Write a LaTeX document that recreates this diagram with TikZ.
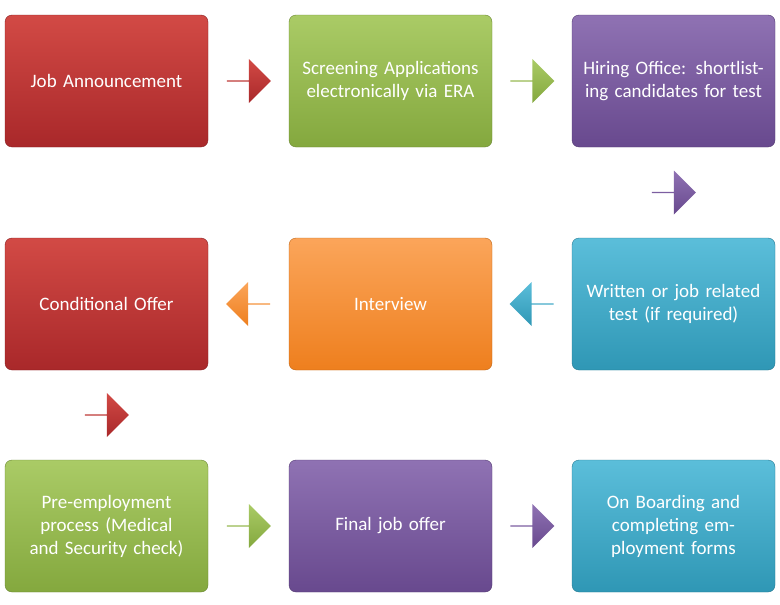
\documentclass[tikz,border=0pt]{standalone}
\usepackage{fontspec}
\setmainfont{Carlito}
\usetikzlibrary{shapes.arrows,calc}
\definecolor{redA}{HTML}{D24A45}\definecolor{redB}{HTML}{A9282A}
\definecolor{grnA}{HTML}{AACB66}\definecolor{grnB}{HTML}{84A83E}
\definecolor{purA}{HTML}{8F72B3}\definecolor{purB}{HTML}{68498E}
\definecolor{cyaA}{HTML}{5BBEDA}\definecolor{cyaB}{HTML}{2F97B5}
\definecolor{orgA}{HTML}{FBA55A}\definecolor{orgB}{HTML}{EE7F1E}
\tikzset{
  stage/.style 2 args={rounded corners=7pt,minimum width=203pt,minimum height=132pt,
    text width=185pt,align=center,text=white,draw=#2!80!black,
    top color=#1,bottom color=#2,font=\fontsize{19}{23}\selectfont},
  blockarrow/.style 2 args={single arrow,single arrow head extend=6pt,
    minimum height=44pt,minimum width=44pt,inner sep=0pt,shape border rotate=#2,
    top color=#1A,bottom color=#1B,draw=none}
}
\begin{document}
\begin{tikzpicture}[x=1pt,y=-1pt]
\useasboundingbox (0,0) rectangle (780,605);
\node[stage={redA}{redB}] (announce) at (106.5,81) {Job Announcement};
\node[stage={grnA}{grnB}] (screen) at (390.5,81) {Screening Applications electronically via ERA};
\node[stage={purA}{purB}] (hiring) at (673.5,81) {Hiring Office: shortlisting candidates for test};
\node[stage={cyaA}{cyaB}] (test) at (673.5,304) {Written or job related test (if required)};
\node[stage={orgA}{orgB}] (interview) at (390.5,304) {Interview};
\node[stage={redA}{redB}] (conditional) at (106.5,304) {Conditional Offer};
\node[stage={grnA}{grnB}] (preemp) at (106.5,526) {Pre-employment process (Medical and Security check)};
\node[stage={purA}{purB}] (final) at (390.5,526) {Final job offer};
\node[stage={cyaA}{cyaB}] (boarding) at (673.5,526) {On Boarding and completing employment forms};
% block arrows between stages
\node[blockarrow={red}{0}] (a1) at ($(announce.east)!0.5!(screen.west)$) {};
\node[blockarrow={grn}{0}] (a2) at ($(screen.east)!0.5!(hiring.west)$) {};
\node[blockarrow={pur}{-90}] (a3) at ($(hiring.south)!0.5!(test.north)$) {};
\node[blockarrow={cya}{180}] (a4) at ($(test.west)!0.5!(interview.east)$) {};
\node[blockarrow={org}{180}] (a5) at ($(interview.west)!0.5!(conditional.east)$) {};
\node[blockarrow={red}{-90}] (a6) at ($(conditional.south)!0.5!(preemp.north)$) {};
\node[blockarrow={grn}{0}] (a7) at ($(preemp.east)!0.5!(final.west)$) {};
\node[blockarrow={pur}{0}] (a8) at ($(final.east)!0.5!(boarding.west)$) {};
\end{tikzpicture}
\end{document}
